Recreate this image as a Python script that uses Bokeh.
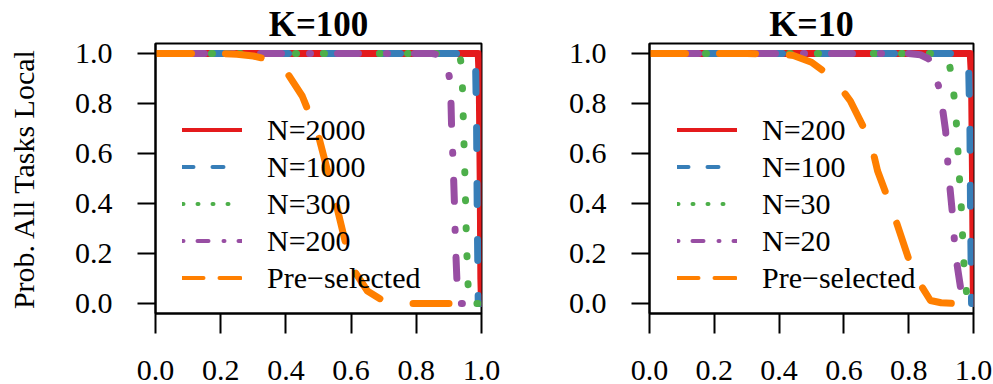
from bokeh.plotting import figure
from bokeh.layouts import row
from bokeh.models import Range1d, FixedTicker, PrintfTickFormatter, Legend, LegendItem
from bokeh.embed import file_html
from bokeh.resources import INLINE

# ---------------- data ----------------
x_ticks = [0.0, 0.2, 0.4, 0.6, 0.8, 1.0]
y_ticks = [0.0, 0.2, 0.4, 0.6, 0.8, 1.0]
y_label = "Prob. All Tasks Local"

# Panel K=100
k100_title = "K=100"
k100_labels = ["N=2000", "N=1000", "N=300", "N=200", "Pre\u2212selected"]
k100_red_x = [0, 0.99, 0.993, 0.996, 0.998, 1.0]
k100_red_y = [1, 1, 0.9, 0.5, 0.1, 0]
k100_blue_x = [0, 0.975, 0.982, 0.985, 0.987, 0.99, 1.0]
k100_blue_y = [1, 1, 0.95, 0.7, 0.35, 0.0, 0]
k100_green_x = [0, 0.90, 0.925, 0.935, 0.94, 0.945, 0.95, 0.954, 0.961, 0.97, 1.0]
k100_green_y = [1, 1, 0.995, 0.98, 0.94, 0.70, 0.47, 0.24, 0.0, 0, 0]
k100_purple_x = [0, 0.85, 0.88, 0.895, 0.905, 0.908, 0.913, 0.917, 0.92, 0.925, 0.93, 0.95, 1.0]
k100_purple_y = [1, 1, 0.99, 0.95, 0.88, 0.72, 0.56, 0.40, 0.245, 0.08, 0, 0, 0]
k100_orange_x = [0, 0.1, 0.2, 0.25, 0.3, 0.35, 0.4, 0.45, 0.5, 0.55, 0.6, 0.65, 0.7, 0.75, 0.8, 0.9, 1.0]
k100_orange_y = [1, 1, 1, 0.997, 0.99, 0.975, 0.93, 0.83, 0.67, 0.42, 0.15, 0.05, 0.01, 0, 0, 0, 0]

# Panel K=10
k10_title = "K=10"
k10_labels = ["N=200", "N=100", "N=30", "N=20", "Pre\u2212selected"]
k10_red_x = [0, 0.99, 0.994, 0.997, 0.999, 1.0]
k10_red_y = [1, 1, 0.9, 0.5, 0.1, 0]
k10_blue_x = [0, 0.975, 0.985, 0.989, 0.991, 0.994, 1.0]
k10_blue_y = [1, 1, 0.95, 0.7, 0.35, 0, 0]
k10_green_x = [0, 0.88, 0.91, 0.925, 0.934, 0.944, 0.95, 0.954, 0.96, 0.965, 0.968, 0.975, 0.982, 1.0]
k10_green_y = [1, 1, 0.99, 0.96, 0.90, 0.78, 0.67, 0.55, 0.44, 0.32, 0.20, 0.09, 0, 0]
k10_purple_x = [0, 0.80, 0.836, 0.86, 0.877, 0.898, 0.914, 0.923, 0.935, 0.944, 0.96, 0.975, 1.0]
k10_purple_y = [1, 1, 0.995, 0.98, 0.945, 0.84, 0.69, 0.52, 0.36, 0.20, 0.064, 0, 0]
k10_orange_x = [0, 0.1, 0.2, 0.3, 0.4, 0.444, 0.5, 0.568, 0.62, 0.682, 0.704, 0.753, 0.815, 0.867, 0.9, 0.95, 1.0]
k10_orange_y = [1, 1, 1, 1, 0.998, 0.992, 0.965, 0.90, 0.81, 0.65, 0.53, 0.36, 0.12, 0.012, 0.003, 0, 0]

# ---------------- styles ----------------
FONT = "Liberation Serif"
colors = ["#E41A1C", "#377EB8", "#4DAF4A", "#984EA3", "#FF7F00"]
curve_dash = ["solid", "21 35", "1 27", "1 27 21 28", "36 34"]
legend_dash = ["solid", "11 19", "1 14", "1 14 11 15", "21 16"]
CURVE_W = 7
LEGEND_W = 4
NAN = float("nan")


def make_panel(title, title_size, series, labels, width, bl, br, show_ylabel, leg_x):
    p = figure(width=width, height=384, output_backend="svg", toolbar_location=None,
               x_range=Range1d(0, 1), y_range=Range1d(-0.04, 1.04),
               min_border_left=bl, min_border_right=br, min_border_top=43, min_border_bottom=71)
    p.grid.visible = False
    p.background_fill_color = "white"
    p.border_fill_color = "white"
    p.outline_line_color = "black"
    p.outline_line_width = 2

    p.title.text = title
    p.title.align = "center"
    p.title.text_font = FONT
    p.title.text_font_style = "bold"
    p.title.text_font_size = title_size
    p.title.text_color = "black"
    p.title.standoff = 0
    p.title.offset = 0

    for ax, ticks, tout in ((p.xaxis[0], x_ticks, 20), (p.yaxis[0], y_ticks, 18)):
        ax.ticker = FixedTicker(ticks=ticks)
        ax.formatter = PrintfTickFormatter(format="%.1f")
        ax.minor_tick_line_color = None
        ax.major_tick_in = 0
        ax.major_tick_out = tout
        ax.major_tick_line_width = 2
        ax.major_tick_line_color = "black"
        ax.axis_line_width = 2
        ax.axis_line_color = "black"
        ax.major_label_text_font = FONT
        ax.major_label_text_font_size = "30px"
        ax.major_label_text_color = "black"
    p.xaxis[0].major_label_standoff = 27
    p.xaxis[0].major_label_text_line_height = 0.6
    p.yaxis[0].major_label_standoff = 25
    if show_ylabel:
        p.yaxis[0].axis_label = y_label
        p.yaxis[0].axis_label_text_font = FONT
        p.yaxis[0].axis_label_text_font_size = "30px"
        p.yaxis[0].axis_label_text_font_style = "normal"
        p.yaxis[0].axis_label_text_color = "black"
        p.yaxis[0].axis_label_standoff = 32

    for i, (xs, ys) in enumerate(series):
        p.line(xs, ys, line_color=colors[i], line_width=CURVE_W, line_dash=curve_dash[i],
               line_cap="round", line_join="round")
    items = []
    for i, lab in enumerate(labels):
        r = p.line([NAN, NAN], [NAN, NAN], line_color=colors[i], line_width=LEGEND_W,
                   line_dash=legend_dash[i], line_cap="round")
        items.append(LegendItem(label=lab, renderers=[r]))

    leg = Legend(items=items, location=(leg_x, 17), padding=0, margin=0, spacing=0,
                 glyph_width=60, glyph_height=37, label_height=37, label_standoff=25,
                 border_line_color=None, background_fill_alpha=0,
                 label_text_font=FONT, label_text_font_size="30px",
                 label_text_baseline="middle", label_text_color="black")
    p.add_layout(leg)
    return p


p1 = make_panel(k100_title, "35px",
                [(k100_red_x, k100_red_y), (k100_blue_x, k100_blue_y),
                 (k100_green_x, k100_green_y), (k100_purple_x, k100_purple_y),
                 (k100_orange_x, k100_orange_y)],
                k100_labels, 560, 155, 79, True, 27)
p2 = make_panel(k10_title, "36px",
                [(k10_red_x, k10_red_y), (k10_blue_x, k10_blue_y),
                 (k10_green_x, k10_green_y), (k10_purple_x, k10_purple_y),
                 (k10_orange_x, k10_orange_y)],
                k10_labels, 433, 89, 20, False, 28)

layout = row(p1, p2)
open("out.html", "w").write(file_html(layout, INLINE))
